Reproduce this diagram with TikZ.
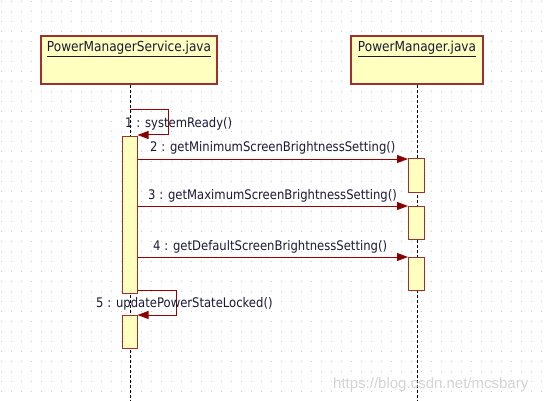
\documentclass[tikz,border=0pt]{standalone}
\usepackage{fontspec}
\setmainfont{DejaVu Sans}[FakeStretch=0.88]
\newfontfamily\wmfont{Liberation Sans}
\usetikzlibrary{arrows.meta}
\definecolor{boxfill}{HTML}{FFFFC0}
\definecolor{boxline}{HTML}{A03030}
\definecolor{msgline}{HTML}{990000}
\definecolor{tipcol}{HTML}{800000}
\definecolor{txt}{HTML}{1A1A38}
\definecolor{griddot}{HTML}{C8C8C8}
\definecolor{wm}{HTML}{D4D4D4}
\tikzset{
  cls/.style={draw=boxline, fill=boxfill, line width=1.3pt, inner sep=0pt},
  act/.style={draw=boxline, fill=boxfill, line width=1pt, inner sep=0pt, minimum width=15pt},
  title/.style={text=txt, font=\fontsize{13.8}{16}\selectfont, inner sep=0pt, anchor=base},
  lbl/.style={text=txt, font=\fontsize{13.2}{15}\selectfont, inner sep=0pt, anchor=base west},
  life/.style={draw=black, line width=1pt, dash pattern=on 3pt off 2pt},
  msg/.style={draw=msgline, line width=1pt, -{Triangle[length=11pt,width=8pt,fill=tipcol]}},
}
\begin{document}
\begin{tikzpicture}[x=1pt,y=-1pt]
\useasboundingbox (0,0) rectangle (546,401);
\fill[white] (0,0) rectangle (546,401);
% dotted grid
\foreach \k in {0,...,40}{
  \draw[griddot, line width=1pt, dash pattern=on 1pt off 9pt] (1,{10*\k+1.5}) -- (546,{10*\k+1.5});
}
% class boxes
\node[cls, minimum width=176pt, minimum height=48pt] (pms) at (129,60) {};
\node[cls, minimum width=132pt, minimum height=48pt] (pm) at (417,60) {};
\node[title] (pmsT) at (129,52) {\underline{PowerManagerService.java}};
\node[title] (pmT) at (417,52) {\underline{PowerManager.java}};
% lifelines
\coordinate (bot1) at (130,401);
\coordinate (bot2) at (417.5,401);
\draw[life] (pms.south -| bot1) -- (bot1);
\draw[life] (pm.south -| bot2) -- (bot2);
% activations
\node[act, minimum height=157pt, anchor=north] (a1) at (129.5,136) {};
\node[act, minimum height=33pt, anchor=north] (a1b) at (129.5,315) {};
\node[act, minimum width=16pt, minimum height=34pt, anchor=north] (a2a) at (416.5,158) {};
\node[act, minimum width=16pt, minimum height=33pt, anchor=north] (a2b) at (416.5,206) {};
\node[act, minimum width=16pt, minimum height=33pt, anchor=north] (a2c) at (416.5,257) {};
% messages
\coordinate (s1) at (130,110);
\draw[msg] (s1) -| ([xshift=31pt,yshift=1pt]a1.north east) -- ([yshift=1pt]a1.north east);
\draw[msg] (a1.east |- a2a.north) ++(0,1) -- ([yshift=-1pt]a2a.north west);
\draw[msg] (a1.east |- a2b.north) -- (a2b.north west);
\draw[msg] (a1.east |- a2c.north) -- (a2c.north west);
\draw[msg] ([yshift=4pt]a1.south east) -| ([xshift=39pt]a1b.north east) -- (a1b.north east);
% labels
\node[lbl] (l1) at (125,128) {1 : systemReady()};
\node[lbl] (l2) at (150,152) {2 : getMinimumScreenBrightnessSetting()};
\node[lbl] (l3) at (148,199) {3 : getMaximumScreenBrightnessSetting()};
\node[lbl] (l4) at (153,250) {4 : getDefaultScreenBrightnessSetting()};
\node[lbl] (l5) at (96,307) {5 : updatePowerStateLocked()};
% watermark
\node[text=wm, font=\wmfont\fontsize{15}{17}\selectfont, inner sep=0pt, anchor=base west] (wmk) at (333,388) {https://blog.csdn.net/mcsbary};
\end{tikzpicture}
\end{document}
